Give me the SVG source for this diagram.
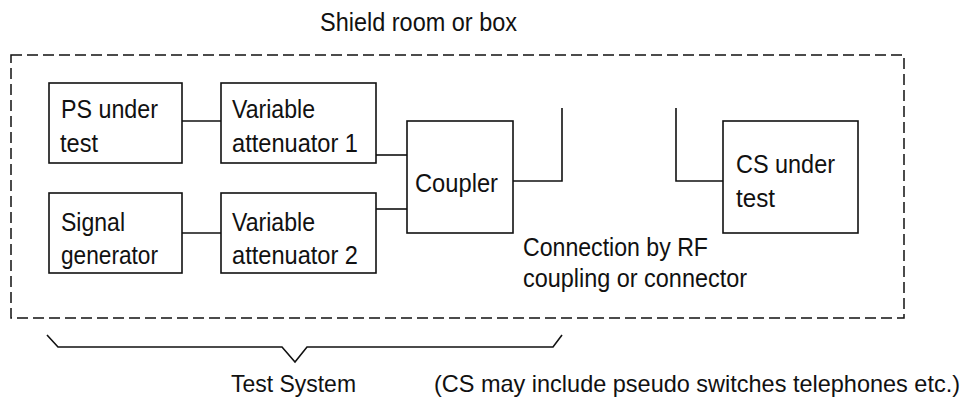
<svg xmlns="http://www.w3.org/2000/svg" width="970" height="403" viewBox="0 0 970 403">
<style>
text{font-family:"Liberation Sans",Arial,sans-serif;font-size:25px;fill:#111}
.sm{font-size:24px}
.box{fill:#fff;stroke:#111;stroke-width:1.6}
.ln{fill:none;stroke:#111;stroke-width:1.6}
.dash{fill:none;stroke:#111;stroke-width:1.5;stroke-dasharray:11 5}
</style>
<rect width="970" height="403" fill="#fff"/>
<g id="shield">
<rect class="dash" x="11" y="55" width="893" height="263"/>
<text x="320" y="31" textLength="197" lengthAdjust="spacingAndGlyphs">Shield room or box</text>
</g>
<g id="connectors">
<path class="ln" d="M182,121H221"/>
<path class="ln" d="M182,233H221"/>
<path class="ln" d="M376,155H407"/>
<path class="ln" d="M376,209H407"/>
<path class="ln" d="M513,181H562V108"/>
<path class="ln" d="M676,108V181H723"/>
</g>
<g id="ps">
<rect class="box" x="49" y="83" width="133" height="80"/>
<text x="61" y="118" textLength="97" lengthAdjust="spacingAndGlyphs">PS under</text>
<text x="60" y="152" textLength="38" lengthAdjust="spacingAndGlyphs">test</text>
</g>
<g id="va1">
<rect class="box" x="221" y="83" width="155" height="80"/>
<text x="232" y="118" textLength="83" lengthAdjust="spacingAndGlyphs">Variable</text>
<text x="232" y="152" textLength="126" lengthAdjust="spacingAndGlyphs">attenuator 1</text>
</g>
<g id="sg">
<rect class="box" x="49" y="193" width="133" height="80"/>
<text x="61" y="231" textLength="64" lengthAdjust="spacingAndGlyphs">Signal</text>
<text x="61" y="264" textLength="97" lengthAdjust="spacingAndGlyphs">generator</text>
</g>
<g id="va2">
<rect class="box" x="221" y="193" width="155" height="80"/>
<text x="232" y="231" textLength="83" lengthAdjust="spacingAndGlyphs">Variable</text>
<text x="232" y="264" textLength="126" lengthAdjust="spacingAndGlyphs">attenuator 2</text>
</g>
<g id="coupler">
<rect class="box" x="407" y="121" width="106" height="112"/>
<text x="415" y="192" textLength="83" lengthAdjust="spacingAndGlyphs">Coupler</text>
</g>
<g id="cs">
<rect class="box" x="723" y="121" width="135" height="112"/>
<text x="736" y="173" textLength="99" lengthAdjust="spacingAndGlyphs">CS under</text>
<text x="736" y="207" textLength="39" lengthAdjust="spacingAndGlyphs">test</text>
</g>
<g id="rf-label">
<text x="523" y="256" textLength="185" lengthAdjust="spacingAndGlyphs">Connection by RF</text>
<text x="523" y="287" textLength="224" lengthAdjust="spacingAndGlyphs">coupling or connector</text>
</g>
<g id="test-system">
<path class="ln" d="M47,335L58,347H282L295,362L307,347H553L562,335"/>
<text class="sm" x="231" y="392" textLength="125" lengthAdjust="spacingAndGlyphs">Test System</text>
</g>
<g id="note">
<text class="sm" x="434" y="392" textLength="526" lengthAdjust="spacingAndGlyphs">(CS may include pseudo switches telephones etc.)</text>
</g>
</svg>
